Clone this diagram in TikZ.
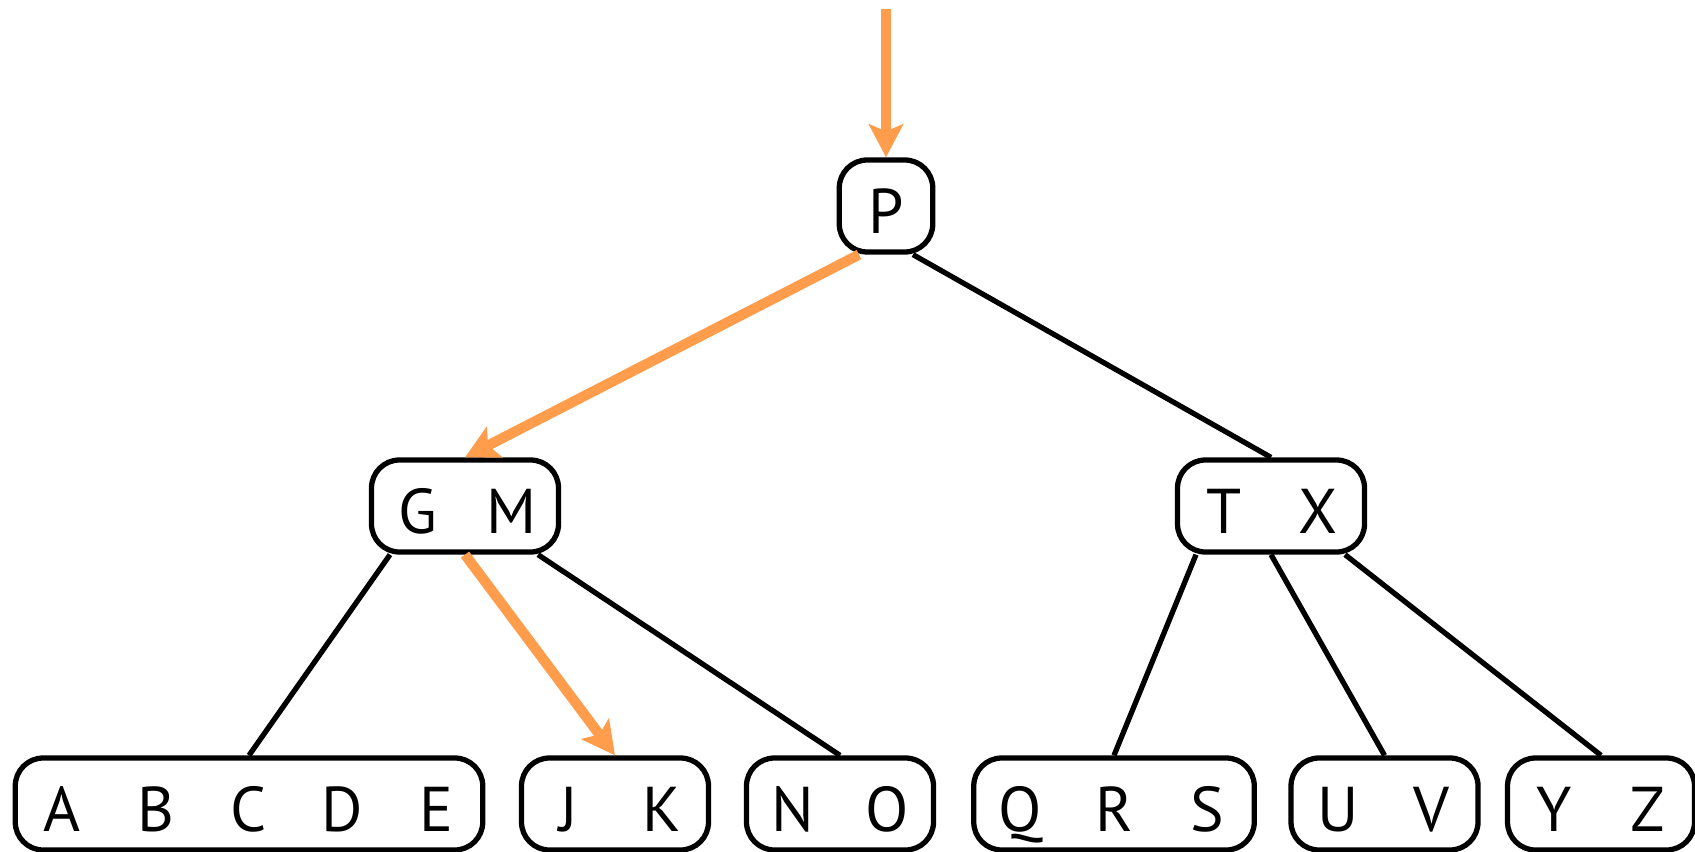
\documentclass[tikz,border=0pt]{standalone}
\usepackage{fontspec}
\setmainfont{PT Sans}
\usepackage{tikz}
\usetikzlibrary{calc}
\usetikzlibrary{arrows.meta}

\definecolor{searchorange}{RGB}{255,157,76}
\newcommand{\keycell}[1]{\makebox[0.935cm]{\rule{0pt}{0.54cm}\smash{#1}}}

\begin{document}
\begin{tikzpicture}[
    black,
    keynode/.style={draw, rounded corners=0.28cm, line width=1.5pt,
        minimum height=0.92cm, inner xsep=0pt, inner ysep=0pt,
        font=\fontsize{18}{20}\selectfont},
    treeedge/.style={line width=1.5pt},
    search/.style={draw=searchorange, line width=2.9pt,
        -{Stealth[length=0.33cm, width=0.34cm, inset=0.07cm]}}
]
\useasboundingbox (0,0) rectangle (16.95,8.51);

% Root
\node[keynode] (P) at (8.86,6.45) {\keycell{P}};
\coordinate (start) at (8.86,8.42);

% Second level
\node[keynode] (GM) at (4.65,3.45) {\keycell{G}\keycell{M}};
\node[keynode] (TX) at (12.71,3.45) {\keycell{T}\keycell{X}};

% Leaves
\node[keynode] (ABCDE) at (2.49,0.47) {\keycell{A}\keycell{B}\keycell{C}\keycell{D}\keycell{E}};
\node[keynode] (JK) at (6.15,0.47) {\keycell{J}\keycell{K}};
\node[keynode] (NO) at (8.40,0.47) {\keycell{N}\keycell{O}};
\node[keynode] (QRS) at (11.14,0.47) {\keycell{Q}\keycell{R}\keycell{S}};
\node[keynode] (UV) at (13.845,0.47) {\keycell{U}\keycell{V}};
\node[keynode] (YZ) at (16.01,0.47) {\keycell{Y}\keycell{Z}};

% Child pointers
\draw[treeedge] ([xshift=0.27cm]P.south) -- (TX.north);
\draw[treeedge] ([xshift=-0.75cm]GM.south) -- (ABCDE.north);
\draw[treeedge] ([xshift=0.73cm]GM.south) -- (NO.north);
\draw[treeedge] ([xshift=-0.75cm]TX.south) -- (QRS.north);
\draw[treeedge] (TX.south) -- (UV.north);
\draw[treeedge] ([xshift=0.74cm]TX.south) -- (YZ.north);

% Search path
\draw[search] (start) -- (P.north);
\draw[search] ([xshift=-0.27cm]P.south) -- (GM.north);
\draw[search] (GM.south) -- (JK.north);

\end{tikzpicture}
\end{document}
